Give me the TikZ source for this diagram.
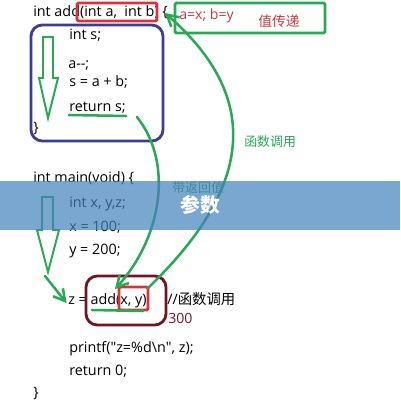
\documentclass[tikz,border=0pt]{standalone}
\usepackage{fontspec}
\setmainfont{Open Sans}
\newfontfamily\cjk{Noto Sans CJK SC}
\usetikzlibrary{arrows.meta}
\definecolor{penGreen}{RGB}{40,170,85}
\definecolor{boxRed}{RGB}{220,50,55}
\definecolor{inkRed}{RGB}{205,55,65}
\definecolor{wine}{RGB}{115,20,35}
\definecolor{boxBlue}{RGB}{60,60,150}
\definecolor{bandBlue}{RGB}{66,129,188}

\begin{document}
\begin{tikzpicture}[x=0.025cm,y=-0.025cm,
  code/.style={anchor=base west,inner sep=0pt,font=\fontsize{10.2}{12}\selectfont},
  note/.style={anchor=base west,inner sep=0pt,font=\fontsize{10}{12}\selectfont},
  frame/.style={line width=2pt,rounded corners=1pt},
  pen/.style={draw=penGreen,line width=1.8pt,line cap=round},
  tip/.style={-{Straight Barb[length=8pt,width=9pt]}}]
    \useasboundingbox (0,0) rectangle (400,411);
    %
    \node[code](hdr) at (33,17) {int add(int a,\ \ int b) \{};
    \node[code](ints) at (69,40) {int s;};
    \node[code](adec) at (68,69) {a-{}-;};
    \node[code](ssum) at (69,87) {s = a + b;};
    \node[code](rets) at (69,112) {return s;};
    \node[code](endadd) at (33,133) {\}};
    %
    \node[code](mainhdr) at (33,183) {int main(void) \{};
    \node[code](decl) at (69,208) {int x, y,z;};
    \node[code](xset) at (69,232) {x = 100;};
    \node[code](yset) at (69,255) {y = 200;};
    \node[code](call) at (68,304) {z = add(x, y);};
    \node[code](cmt) at (167,304) {//{\cjk 函数调用}};
    \node[code](prn) at (69,352) {printf(\textquotedbl z=\%d\textbackslash n\textquotedbl, z);};
    \node[code](ret0) at (69,375) {return 0;};
    \node[code](endmain) at (33,397) {\}};
    %
    \node[note,text=inkRed](pass) at (179,20) {a=x; b=y};
    \node[note,text=inkRed,font=\cjk\fontsize{9.8}{12}\selectfont](passlbl) at (258,27) {值传递};
    \node[note,text=penGreen,font=\cjk\fontsize{9.2}{11}\selectfont](calllbl) at (244,147) {函数调用};
    \node[note,text=penGreen,font=\cjk\fontsize{9.2}{11}\selectfont](retlbl) at (172,193) {带返回值};
    \node[note,text=wine](res) at (168,323) {300};
    %
    \draw[frame,draw=boxRed] (77,3) rectangle (157,21);
    \draw[frame,draw=penGreen] (175,3) rectangle (325,33);
    \draw[frame,draw=boxBlue,rounded corners=8pt] (31,25) rectangle (163,141);
    \draw[frame,draw=wine,rounded corners=8pt] (86,276) rectangle (166,325);
    \draw[frame,draw=boxRed] (119,287) rectangle (148,310);
    %
    \draw[pen,line width=1.4pt,line cap=butt] (43,37) -- ++(10,0) -- ++(0,41) -- ++(5,0) -- (48,118) -- (39,78) -- ++(4,0) -- cycle;
    \draw[pen,line width=1.4pt,line cap=butt] (42,197) -- ++(11,0) -- ++(0,33) -- ++(6,0) -- (48,272) -- (37,230) -- ++(5,0) -- cycle;
    %
    \draw[pen] (69,115) -- (126,116);
    \draw[pen] (92,310) -- (143,311);
    %
    \coordinate (kick) at (45,276);
    \draw[pen,tip] (kick) -- ([xshift=-1pt,yshift=-2pt]call.west);
    %
    \coordinate (retout) at (137,117);
    \coordinate (argin) at (115,289);
    \draw[pen,tip] (retout) .. controls (175,165) and (160,240) .. (argin);
    %
    \coordinate (argout) at (148,288);
    \coordinate (hdrin) at (165,13);
    \draw[pen,tip] (argout) .. controls (250,190) and (265,100) .. (hdrin);
    %
    \fill[bandBlue,opacity=0.7] (0,181) rectangle (400,230);
    \node[text=white,font=\cjk\bfseries\fontsize{14}{14}\selectfont](tag) at (200,205) {参数};
\end{tikzpicture}
\end{document}
